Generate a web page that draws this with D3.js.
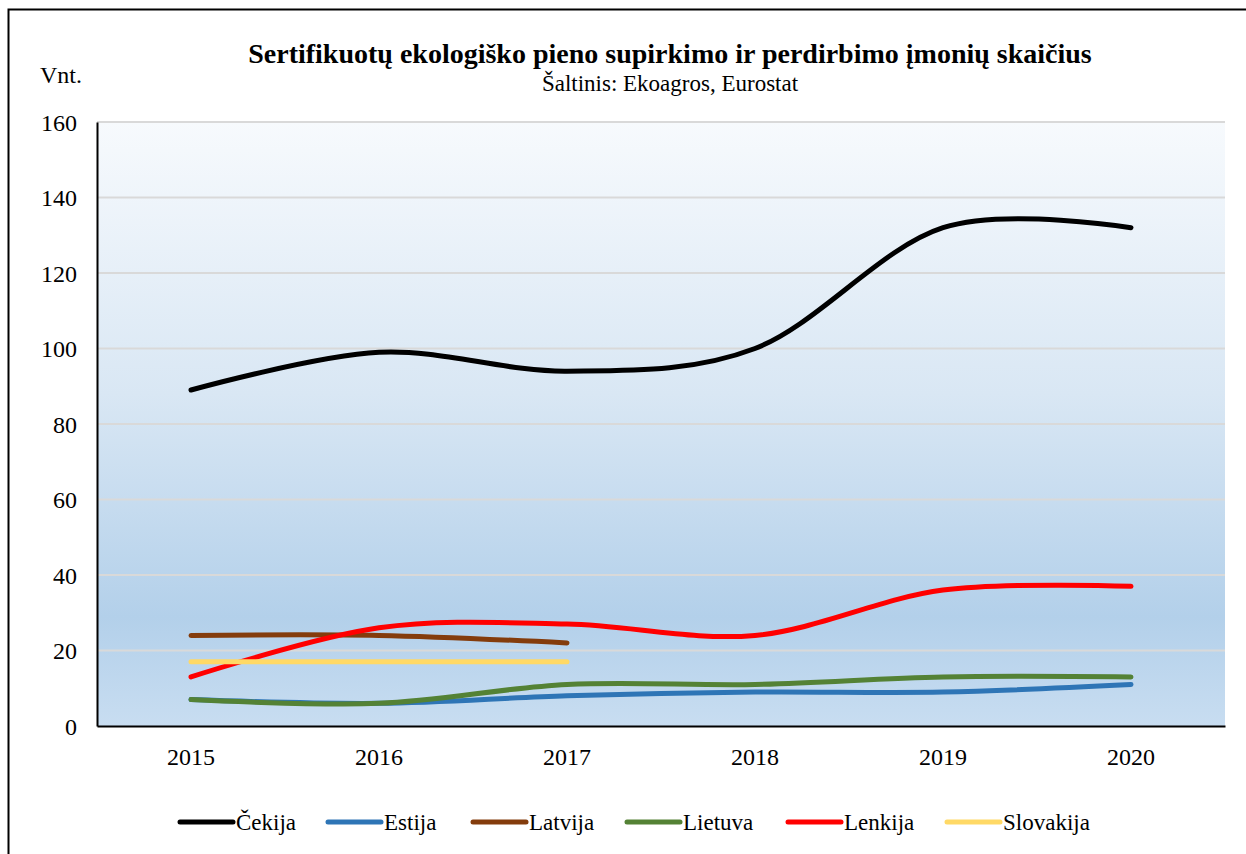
<!DOCTYPE html>
<html>
<head>
<meta charset="utf-8">
<script src="https://cdn.jsdelivr.net/npm/d3@7"></script>
<style>
  body { margin: 0; background: #fff; }
  svg { display: block; }
</style>
</head>
<body>
<svg id="chart" width="1246" height="854"></svg>
<script>
// data
const years = ["2015", "2016", "2017", "2018", "2019", "2020"];
const yTicks = [0, 20, 40, 60, 80, 100, 120, 140, 160];

const cekija = [89, 99, 94, 100, 132, 132];
const estija = [7, 6, 8, 9, 9, 11];
const latvija = [24, 24, 22];
const lietuva = [7, 6, 11, 11, 13, 13];
const lenkija = [13, 26, 27, 24, 36, 37];
const slovakija = [17, 17, 17];

const series = [
  { name: "Čekija", values: cekija, color: "#000000" },
  { name: "Estija", values: estija, color: "#2e75b6" },
  { name: "Latvija", values: latvija, color: "#843c0c" },
  { name: "Lietuva", values: lietuva, color: "#548235" },
  { name: "Lenkija", values: lenkija, color: "#ff0000" },
  { name: "Slovakija", values: slovakija, color: "#ffd966" }
];

const FONT = "'Liberation Serif', 'Times New Roman', Times, 'DejaVu Serif', serif";

const width = 1246, height = 854;
const margin = { top: 122, right: 21, bottom: 128, left: 97 };
const innerW = width - margin.left - margin.right;
const innerH = height - margin.top - margin.bottom;

const svg = d3.select("#chart");

// outer frame (right and bottom fall outside the picture)
svg.append("rect")
  .attr("x", 8.5).attr("y", 9.5)
  .attr("width", 1260).attr("height", 900)
  .attr("fill", "none").attr("stroke", "#000").attr("stroke-width", 2);

const defs = svg.append("defs");
const grad = defs.append("linearGradient")
  .attr("id", "bg").attr("x1", 0).attr("y1", 0).attr("x2", 0).attr("y2", 1);
grad.append("stop").attr("offset", "0%").attr("stop-color", "#f7fafd");
grad.append("stop").attr("offset", "45%").attr("stop-color", "#d9e7f4");
grad.append("stop").attr("offset", "82%").attr("stop-color", "#b3d0ea");
grad.append("stop").attr("offset", "100%").attr("stop-color", "#c8ddf1");

const g = svg.append("g").attr("transform", `translate(${margin.left},${margin.top})`);

g.append("rect")
  .attr("width", innerW).attr("height", innerH)
  .attr("fill", "url(#bg)");

const x = d3.scaleBand().domain(years).range([0, innerW]);
const y = d3.scaleLinear().domain([0, 160]).range([innerH, 0]);

// gridlines
g.append("g")
  .selectAll("line")
  .data(yTicks.filter(d => d > 0))
  .join("line")
  .attr("x1", 0).attr("x2", innerW)
  .attr("y1", d => y(d)).attr("y2", d => y(d))
  .attr("stroke", "#d9d9d9").attr("stroke-width", 2);

// y axis
const yAxis = g.append("g")
  .call(d3.axisLeft(y).tickValues(yTicks).tickSize(0).tickPadding(20));
yAxis.attr("font-family", FONT);
yAxis.select(".domain").attr("stroke", "#000").attr("stroke-width", 2);
yAxis.selectAll("text")
  .style("font-family", FONT).style("font-size", "24px")
  .attr("fill", "#000").attr("dy", "0.34em");

// x axis
const xAxis = g.append("g")
  .attr("transform", `translate(0,${innerH})`)
  .call(d3.axisBottom(x).tickSize(0).tickPadding(22));
xAxis.attr("font-family", FONT);
xAxis.select(".domain").attr("stroke", "#000").attr("stroke-width", 2);
xAxis.selectAll("text")
  .style("font-family", FONT).style("font-size", "24px")
  .attr("fill", "#000");

// lines
const line = d3.line()
  .x((d, i) => x(years[i]) + x.bandwidth() / 2)
  .y(d => y(d))
  .curve(d3.curveCatmullRom.alpha(0));

g.append("g")
  .selectAll("path")
  .data(series)
  .join("path")
  .attr("d", d => line(d.values))
  .attr("fill", "none")
  .attr("stroke", d => d.color)
  .attr("stroke-width", 5)
  .attr("stroke-linecap", "round")
  .attr("stroke-linejoin", "round");

// title
svg.append("text")
  .attr("x", 670).attr("y", 63)
  .attr("text-anchor", "middle")
  .style("font-family", FONT).style("font-size", "28px").style("font-weight", "bold")
  .text("Sertifikuotų ekologiško pieno supirkimo ir perdirbimo įmonių skaičius");
svg.append("text")
  .attr("x", 670).attr("y", 91)
  .attr("text-anchor", "middle")
  .style("font-family", FONT).style("font-size", "23px")
  .text("Šaltinis: Ekoagros, Eurostat");

svg.append("text")
  .attr("x", 40).attr("y", 83)
  .style("font-family", FONT).style("font-size", "24px")
  .text("Vnt.");

// legend
const legendX = [180, 328, 473, 627, 788, 947];
const legend = svg.append("g").selectAll("g")
  .data(series)
  .join("g")
  .attr("transform", (d, i) => `translate(${legendX[i]},822)`);
legend.append("line")
  .attr("x1", 0).attr("x2", 53)
  .attr("stroke", d => d.color)
  .attr("stroke-width", 5)
  .attr("stroke-linecap", "round");
legend.append("text")
  .attr("x", 56).attr("y", 8)
  .style("font-family", FONT).style("font-size", "23px")
  .text(d => d.name);
</script>
</body>
</html>
